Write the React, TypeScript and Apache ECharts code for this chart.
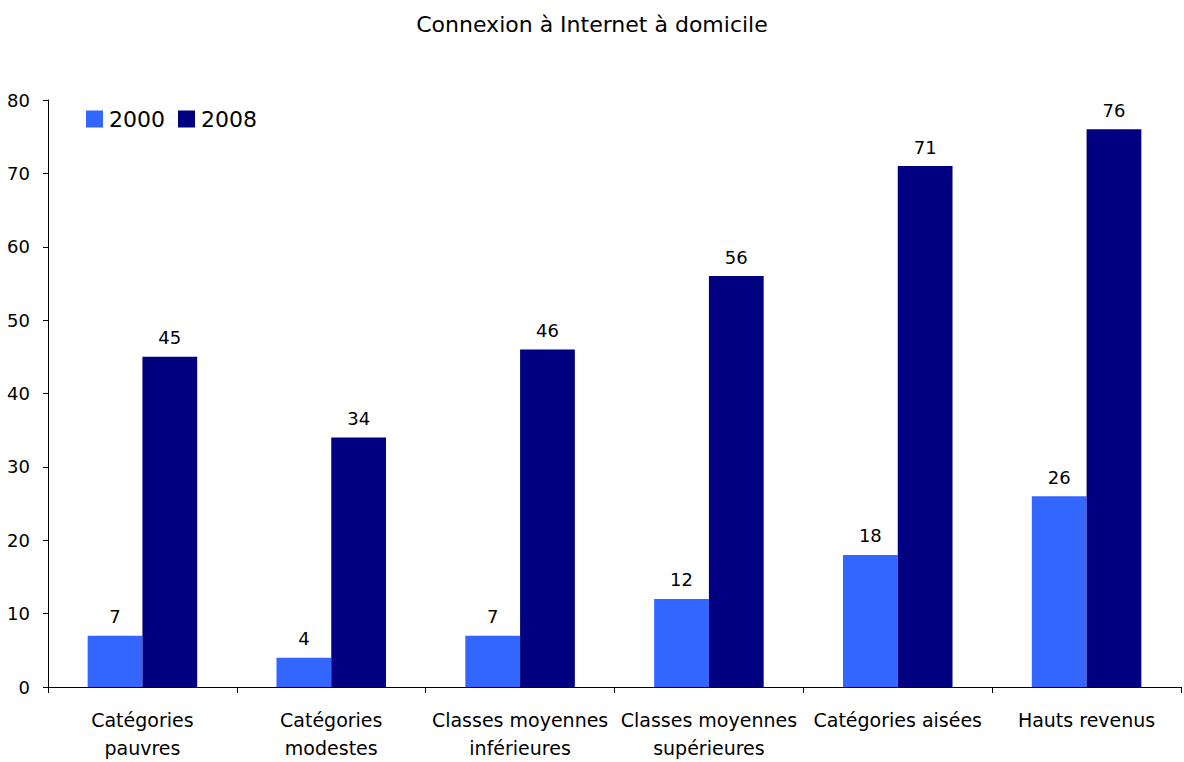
import React, { useEffect, useRef } from "react";
import * as echarts from "echarts";

const categories = [
  "Catégories\npauvres",
  "Catégories\nmodestes",
  "Classes moyennes\ninférieures",
  "Classes moyennes\nsupérieures",
  "Catégories aisées",
  "Hauts revenus",
];
const values2000 = [7, 4, 7, 12, 18, 26];
const values2008 = [45, 34, 46, 56, 71, 76];
const yTicks = { min: 0, max: 80, interval: 10 };

const FONT = "DejaVu Sans";

export default function App() {
  const ref = useRef<HTMLDivElement>(null);
  useEffect(() => {
    if (!ref.current) return;
    const chart = echarts.init(ref.current, null, { renderer: "svg" });
    const labelStyle = {
      show: true,
      position: "top",
      distance: 10,
      fontFamily: FONT,
      fontSize: 18,
      color: "#000",
    };
    chart.setOption({
      animation: false,
      backgroundColor: "#ffffff",
      textStyle: { fontFamily: FONT, color: "#000" },
      title: {
        text: "Connexion à Internet à domicile",
        left: "center",
        top: 8,
        textStyle: { fontFamily: FONT, fontSize: 22, fontWeight: "normal", color: "#000" },
      },
      legend: {
        left: 81,
        top: 103,
        itemWidth: 17,
        itemHeight: 17,
        itemGap: 13,
        textStyle: { fontFamily: FONT, fontSize: 22, color: "#000", padding: [0, 0, 0, 1] },
        data: [
          { name: "2000", icon: "rect" },
          { name: "2008", icon: "rect" },
        ],
      },
      grid: { left: 48, right: 3, top: 100, bottom: 73, containLabel: false },
      xAxis: {
        type: "category",
        data: categories,
        axisLine: { lineStyle: { color: "#000", width: 1 } },
        axisTick: { show: true, length: 6, lineStyle: { color: "#000" } },
        axisLabel: {
          interval: 0,
          fontFamily: FONT,
          fontSize: 19,
          color: "#000",
          lineHeight: 28,
          margin: 19,
        },
      },
      yAxis: {
        type: "value",
        min: yTicks.min,
        max: yTicks.max,
        interval: yTicks.interval,
        splitLine: { show: false },
        axisLine: { show: true, lineStyle: { color: "#000", width: 1 } },
        axisTick: { show: true, length: 5, lineStyle: { color: "#000" } },
        axisLabel: { fontFamily: FONT, fontSize: 18, color: "#000", margin: 18 },
      },
      series: [
        {
          name: "2000",
          type: "bar",
          data: values2000,
          barWidth: "29%",
          barGap: "0%",
          itemStyle: { color: "#3366FF" },
          label: labelStyle,
        },
        {
          name: "2008",
          type: "bar",
          data: values2008,
          barWidth: "29%",
          barGap: "0%",
          itemStyle: { color: "#000080" },
          label: labelStyle,
        },
      ],
    });
    return () => chart.dispose();
  }, []);
  return <div ref={ref} style={{ width: 1184, height: 762, position: "absolute", left: 0, top: 0 }} />;
}
